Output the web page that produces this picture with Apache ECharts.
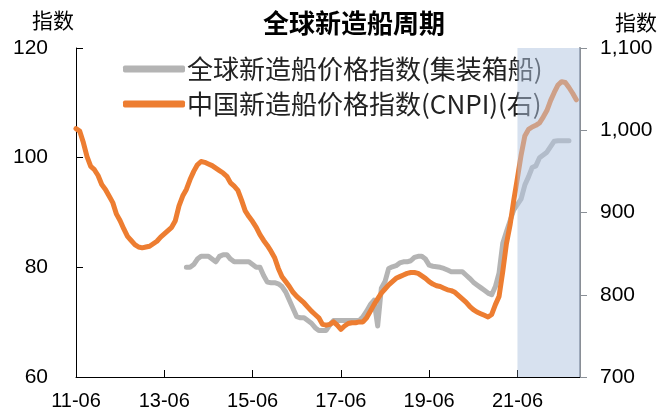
<!DOCTYPE html>
<html>
<head>
<meta charset="utf-8">
<script src="https://cdn.jsdelivr.net/npm/echarts@6/dist/echarts.min.js"></script>
<style>
html, body { margin: 0; padding: 0; background: #fff; }
#chart { width: 661px; height: 415px; }
</style>
</head>
<body>
<div id="chart"></div>
<script>
// monthly axis, 2011-06 .. 2022-11
var startYear = 2011, startMonth = 6, monthCount = 138;
var months = [];
for (var i = 0; i < monthCount; i++) {
    var m = startMonth - 1 + i;
    var yy = (startYear + Math.floor(m / 12)) % 100;
    var mm = m % 12 + 1;
    months.push((yy < 10 ? '0' : '') + yy + '-' + (mm < 10 ? '0' : '') + mm);
}

// China newbuilding price index (CNPI), right axis
var cnpi = [
    1002, 999, 985, 968, 956, 952, 945, 934, 928, 920,
    912, 898, 890, 880, 871, 866, 861, 858, 857, 858,
    859, 862, 865, 870, 874, 878, 882, 890, 908, 920,
    928, 940, 950, 958, 962, 961, 959, 957, 954, 951,
    948, 944, 936, 932, 927, 915, 902, 895, 889, 882,
    873, 866, 860, 853, 845, 832, 822, 816, 810, 803,
    798, 794, 790, 785, 780, 776, 772, 764, 763, 764,
    767, 763, 758, 762, 765, 766, 766, 767, 767, 772, 780,
    788, 795, 802, 807, 812, 816, 820, 822, 824, 826,
    827, 827, 826, 823, 820, 816, 813, 811, 810, 808,
    806, 805, 803, 799, 795, 791, 786, 782, 779, 777,
    775, 773, 776, 788, 798, 828, 862, 885, 915, 942,
    970, 993, 1001, 1004, 1006, 1009, 1016, 1024, 1036, 1046,
    1055, 1059, 1058, 1052, 1045, 1037
];

// global newbuilding price index (container ships), left axis, starts 2013-12
var containerStart = 30;
var container = [
    80, 80, 80.5, 81.5, 82, 82, 82, 81.5, 81, 82,
    82.3, 82.3, 81.5, 81, 81, 81, 81, 81, 80.5, 80,
    80, 78.5, 77.3, 77.2, 77.2, 77, 76.5, 75.5, 74, 72.5,
    71, 70.8, 70.8, 70.3, 69.8, 69, 68.5, 68.5, 68.5, 69.5,
    70.3, 70.3, 70.3, 70.3, 70.3, 70.3, 70.3, 70.3, 71, 72, 73.2,
    74, 69.3, 76.2, 77.4, 79.8, 80.1, 80.3, 80.8, 81, 81,
    81.2, 81.8, 82, 82, 81.5, 80.4, 80.2, 80.1, 80, 79.8,
    79.5, 79.2, 79.2, 79.2, 79.2, 78.6, 78, 77.3, 76.8, 76.3,
    75.8, 75.3, 75, 76.5, 79, 84.4, 86.5, 88.5, 90.5, 91.5,
    92.5, 95, 96.5, 98.2, 98.5, 100, 100.5, 101, 102, 103,
    103.1, 103.1, 103.1, 103.1
];

var leftTicks = [60, 120, 20];
var rightTicks = [700, 1100, 100];
var shadeFrom = '21-06';
var shadeTo = '22-11';

var containerFull = months.map(function (d, i) {
    var k = i - containerStart;
    return (k >= 0 && k < container.length) ? container[k] : null;
});

var fontNum = 'Liberation Sans, Arial, Noto Sans CJK SC, sans-serif';
var fontCJK = 'Noto Sans CJK SC, Liberation Sans, sans-serif';

var myChart = echarts.init(document.getElementById('chart'));

var option = {
    animation: false,
    title: {
        text: '全球新造船周期',
        left: 349,
        textAlign: 'center',
        top: 5,
        textStyle: { fontFamily: fontCJK, fontSize: 26, fontWeight: 'bold', color: '#000' }
    },
    graphic: [
        { type: 'text', left: 32, top: 10, style: { text: '指数', font: '21px ' + fontCJK, fill: '#000' } },
        { type: 'text', left: 615, top: 12, style: { text: '指数', font: '21px ' + fontCJK, fill: '#000' } }
    ],
    legend: {
        orient: 'vertical',
        left: 118,
        top: 51,
        itemGap: 9,
        itemWidth: 62,
        itemHeight: 7,
        icon: 'roundRect',
        textStyle: { fontFamily: fontCJK, fontSize: 26, color: '#222', padding: [0, 0, 0, -3] },
        data: ['全球新造船价格指数(集装箱船)', '中国新造船价格指数(CNPI)(右)']
    },
    grid: { left: 76, right: 81, top: 48, bottom: 38 },
    xAxis: {
        type: 'category',
        data: months,
        boundaryGap: false,
        axisLine: { lineStyle: { color: '#000', width: 1 } },
        axisTick: { inside: true, length: 7, interval: 23, lineStyle: { color: '#000' } },
        axisLabel: { interval: 23, margin: 14, fontSize: 20, fontFamily: fontNum, color: '#000' },
        splitLine: { show: false }
    },
    yAxis: [{
        type: 'value',
        min: leftTicks[0], max: leftTicks[1], interval: leftTicks[2],
        axisLine: { show: true, lineStyle: { color: '#000' } },
        axisTick: { show: true, inside: true, length: 7, lineStyle: { color: '#000' } },
        axisLabel: { margin: 28, fontSize: 21, fontFamily: fontNum, color: '#000' },
        splitLine: { show: false }
    }, {
        type: 'value',
        min: rightTicks[0], max: rightTicks[1], interval: rightTicks[2],
        axisLine: { show: true, lineStyle: { color: '#8a8f96', width: 2 } },
        axisTick: { show: true, length: 7, lineStyle: { color: '#8a8f96' } },
        axisLabel: {
            margin: 20, fontSize: 21, fontFamily: fontNum, color: '#000',
            formatter: function (v) { return v.toLocaleString('en-US'); }
        },
        splitLine: { show: false }
    }],
    series: [{
        name: '全球新造船价格指数(集装箱船)',
        type: 'line',
        yAxisIndex: 0,
        data: containerFull,
        showSymbol: false,
        connectNulls: false,
        lineStyle: { color: '#B4B4B4', width: 5, join: 'round', cap: 'round' },
        itemStyle: { color: '#B4B4B4' },
        z: 2
    }, {
        name: '中国新造船价格指数(CNPI)(右)',
        type: 'line',
        yAxisIndex: 1,
        data: cnpi,
        showSymbol: false,
        lineStyle: { color: '#ED7D31', width: 5, join: 'round', cap: 'round' },
        itemStyle: { color: '#ED7D31' },
        z: 3
    }, {
        // shaded period, drawn over the lines
        name: 'shade',
        type: 'line',
        yAxisIndex: 0,
        data: months.map(function () { return null; }),
        showSymbol: false,
        silent: true,
        markArea: {
            silent: true,
            zlevel: 1,
            z: 10,
            itemStyle: { color: 'rgba(176,196,224,0.5)' },
            data: [[{ xAxis: shadeFrom, yAxis: leftTicks[1] }, { xAxis: shadeTo, yAxis: leftTicks[0] }]]
        }
    }]
};

myChart.setOption(option);
</script>
</body>
</html>
